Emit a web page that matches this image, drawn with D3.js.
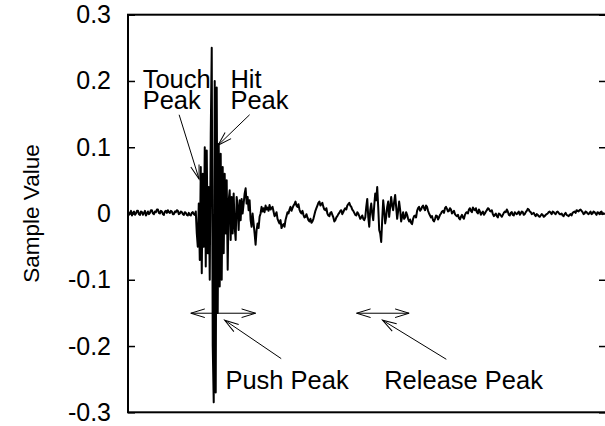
<!DOCTYPE html>
<html>
<head>
<meta charset="utf-8">
<script src="https://cdn.jsdelivr.net/npm/d3@7"></script>
<style>
  body { margin: 0; background: #fff; }
  svg { display: block; font-family: "Liberation Sans", Arial, sans-serif; }
</style>
</head>
<body>
<svg id="chart"></svg>
<script>
// y axis ticks
const yTicks = [-0.3, -0.2, -0.1, 0, 0.1, 0.2, 0.3];
const yTickLabels = ["-0.3", "-0.2", "-0.1", "0", "0.1", "0.2", "0.3"];

const quietBefore = [
  0.002, -0.002, 0.001, 0.004, -0.003, 0.001, 0.003, -0.002, 0.000, 0.004,
  0.004, -0.001, -0.002, 0.003, 0.002, -0.002, 0.001, 0.004, -0.003, 0.000,
  0.003, -0.001, 0.001, 0.005, 0.005, 0.000, -0.001, 0.003, 0.002, 0.006,
  0.006, 0.001, 0.000, 0.004, 0.003, -0.001, -0.002, 0.003, 0.004, 0.001,
  0.005, 0.002, 0.001, 0.004, 0.003, -0.001, -0.001, 0.003, 0.002, 0.005,
  0.004, -0.001, 0.000, 0.003, 0.002, -0.001, -0.002, 0.002, 0.001, -0.002,
  -0.003, 0.001, -0.002, -0.003, 0.001, 0.002, -0.001, -0.002, 0.003
];
const touchAndHit = [
  -0.030, -0.050, 0.015, -0.070, 0.070, -0.090, 0.060, -0.050, 0.100, -0.080,
  0.095, -0.060, 0.040, -0.100, 0.120, 0.250, -0.200, -0.285, 0.200, -0.270,
  0.190, -0.150, 0.105, -0.110, 0.090, -0.100, 0.070, -0.060, 0.060, -0.030,
  0.050, -0.085, 0.020, 0.035, -0.040, 0.025, -0.030, 0.030, -0.020, -0.040,
  0.025, 0.010, -0.025, 0.020, -0.010, 0.022, 0.000, 0.015, 0.030, 0.038,
  0.015, 0.025, 0.005, 0.020, -0.010, -0.020, 0.000, -0.015, -0.030, -0.047,
  -0.025, -0.015, -0.022, -0.005, 0.000, 0.010, 0.003, 0.008, 0.002, 0.012,
  0.006, 0.009, 0.004, 0.013
];
const pushAndRelease = [
  0.006, 0.008, 0.010, 0.003, -0.004, -0.002, 0.002, -0.008, -0.012, -0.015,
  -0.010, -0.022, -0.018, -0.016, -0.020, -0.010, -0.004, 0.002, 0.000, 0.006,
  0.010, 0.004, 0.008, 0.012, 0.014, 0.018, 0.012, 0.010, 0.014, 0.006,
  0.002, 0.000, 0.004, -0.002, -0.006, -0.005, -0.001, -0.006, -0.010, -0.012,
  -0.008, -0.014, -0.012, -0.008, -0.002, 0.004, 0.008, 0.012, 0.016, 0.018,
  0.012, 0.014, 0.016, 0.010, 0.006, 0.005, 0.008, 0.000, -0.003, -0.004,
  0.001, 0.002, -0.002, -0.006, -0.012, -0.010, -0.006, -0.004, -0.001, 0.001,
  0.004, 0.005, -0.001, 0.002, 0.006, 0.008, 0.006, 0.012, 0.014, 0.016,
  0.012, 0.010, 0.006, 0.004, 0.001, -0.002, -0.003, 0.002, 0.000, -0.004,
  -0.008, -0.006, -0.003, -0.008, -0.010, -0.006, 0.010, 0.022, -0.005, -0.020,
  0.005, 0.015, 0.000, -0.010, 0.012, 0.030, 0.020, 0.040, 0.010, -0.025,
  -0.030, -0.043, -0.010, 0.020, 0.005, -0.015, -0.005, 0.010, 0.018, -0.005,
  0.010, 0.025, 0.012, 0.005, 0.018, 0.028, 0.010, -0.008, 0.004, 0.018,
  0.006, -0.012, -0.005, 0.002, -0.008, -0.006, 0.002, -0.002, -0.008, -0.012,
  -0.009, -0.014, -0.016, -0.008, -0.004, -0.003, -0.006, 0.004, 0.008, 0.010,
  0.004, 0.006, 0.010, 0.012, 0.008, 0.005, 0.012, 0.010, 0.004, 0.000
];
const quietAfter = [
  -0.003, -0.006, -0.004, -0.010, -0.012, -0.008, -0.003, -0.004, -0.009, -0.006,
  -0.002, 0.000, 0.003, 0.004, 0.001, 0.008, 0.010, 0.007, 0.003, 0.004,
  0.008, 0.006, 0.000, 0.002, 0.004, -0.001, -0.003, -0.004, -0.002, -0.007,
  -0.009, -0.005, -0.002, -0.006, -0.008, -0.002, 0.001, 0.002, 0.000, 0.006,
  0.008, 0.004, 0.002, 0.009, 0.006, 0.005, 0.008, 0.002, 0.000, 0.006,
  0.003, -0.002, 0.001, 0.003, -0.002, 0.000, 0.003, 0.005, 0.008, 0.007,
  0.004, 0.003, 0.005, -0.001, -0.004, -0.002, 0.000, -0.004, -0.006, 0.000,
  -0.001, -0.003, -0.005, -0.002, 0.001, 0.003, 0.002, 0.006, 0.003, -0.002,
  -0.003, 0.001, 0.002, -0.002, -0.003, 0.002, 0.000, -0.001, 0.001, 0.003,
  -0.002, 0.000, 0.003, 0.002, -0.002, -0.001, 0.002, 0.004, 0.007, 0.006,
  0.003, 0.002, -0.001, 0.000, 0.001, -0.002, -0.004, -0.001, -0.002, -0.004,
  -0.005, -0.003, -0.001, -0.002, -0.005, -0.004, -0.002, -0.001, 0.000, 0.002,
  0.003, 0.001, -0.001, 0.003, 0.002, 0.000, -0.001, 0.002, 0.003, 0.001,
  -0.001, -0.001, 0.000, -0.003, -0.004, -0.001, 0.001, -0.002, -0.003, -0.004,
  -0.002, -0.001, -0.003, 0.001, 0.002, 0.003, 0.001, 0.005, 0.004, 0.003,
  0.005, 0.006, 0.004, 0.002, -0.001, 0.000, 0.003, 0.002, 0.000, -0.001,
  0.001, 0.003, -0.001, 0.000, 0.003, 0.002, 0.000, -0.002, 0.002, 0.001,
  -0.001, 0.002, 0.003, -0.001, 0.000, 0.001
];
const samples = [...quietBefore, ...touchAndHit, ...pushAndRelease, ...quietAfter];

// annotation labels, anchored in data space (sample index, value)
const labelTexts = [["Touch", "Peak"], ["Hit", "Peak"], ["Push Peak"], ["Release Peak"]];
const labelSample = [14.7, 102.7, 97.7, 257];
const labelValue = [0.189, 0.189, -0.265, -0.265];

// pointer arrows [fromSample, fromValue, toSample, toValue]
const pointers = [
  [51.3, 0.149, 71.3, 0.052],
  [122.0, 0.149, 90.3, 0.103],
  [153.7, -0.219, 97.0, -0.161],
  [319.3, -0.220, 255.3, -0.161]
];
// span arrows [startSample, endSample, value]
const spans = [
  [63, 128, -0.1505],
  [229.3, 282, -0.1505]
];

const width = 605, height = 426;
const margin = { top: 14.7, right: -1, bottom: 13.7, left: 128 };

const svg = d3.select("#chart").attr("width", width).attr("height", height);

const xScale = d3.scaleLinear()
  .domain([0, samples.length - 1])
  .range([margin.left, width - 0.5]);
const yScale = d3.scaleLinear()
  .domain([-0.3, 0.3])
  .range([height - margin.bottom, margin.top]);

// open arrow head
const defs = svg.append("defs");
defs.append("marker")
  .attr("id", "head")
  .attr("markerUnits", "userSpaceOnUse")
  .attr("viewBox", "-15 -6 17 12")
  .attr("refX", 0).attr("refY", 0)
  .attr("markerWidth", 17).attr("markerHeight", 12)
  .attr("orient", "auto-start-reverse")
  .append("path")
  .attr("d", "M-14,-4.3L0,0L-14,4.3")
  .attr("fill", "none")
  .attr("stroke", "#000")
  .attr("stroke-width", 1);

// left axis with inward ticks
const yAxis = d3.axisLeft(yScale)
  .tickValues(yTicks)
  .tickFormat((d, i) => yTickLabels[i])
  .tickSize(-7)
  .tickPadding(17);

const yAxisG = svg.append("g")
  .attr("transform", `translate(${margin.left},0)`)
  .call(yAxis);
yAxisG.select(".domain").remove();
yAxisG.selectAll("line").attr("stroke", "#000").attr("stroke-width", 1.5);
yAxisG.selectAll("text")
  .attr("fill", "#000")
  .style("font-size", "25px")
  .style("font-family", "'Liberation Sans', Arial, sans-serif");

// mirrored ticks on the right
const yAxisR = d3.axisRight(yScale)
  .tickValues(yTicks)
  .tickFormat("")
  .tickSize(-7);
const yAxisRG = svg.append("g")
  .attr("transform", `translate(${width - margin.right},0)`)
  .call(yAxisR);
yAxisRG.select(".domain").remove();
yAxisRG.selectAll("line").attr("stroke", "#000").attr("stroke-width", 1.5);

// waveform
const line = d3.line()
  .x((d, i) => xScale(i))
  .y(d => yScale(d));

svg.append("path")
  .datum(samples)
  .attr("fill", "none")
  .attr("stroke", "#000")
  .attr("stroke-width", 2)
  .attr("stroke-linejoin", "round")
  .attr("d", line);

// frame
svg.append("rect")
  .attr("x", margin.left)
  .attr("y", margin.top)
  .attr("width", width - margin.right - margin.left)
  .attr("height", height - margin.bottom - margin.top)
  .attr("fill", "none")
  .attr("stroke", "#000")
  .attr("stroke-width", 2);

// y label
svg.append("text")
  .attr("transform", `translate(39,${yScale(0)}) rotate(-90)`)
  .attr("text-anchor", "middle")
  .style("font-size", "22.5px")
  .text("Sample Value");

// annotation labels
labelTexts.forEach((lines, k) => {
  const t = svg.append("text")
    .attr("x", xScale(labelSample[k]))
    .attr("y", yScale(labelValue[k]))
    .style("font-size", "25.5px");
  lines.forEach((s, j) => {
    t.append("tspan")
      .attr("x", xScale(labelSample[k]))
      .attr("dy", j === 0 ? 0 : 21)
      .text(s);
  });
});

// pointer arrows
svg.selectAll(".pointer")
  .data(pointers)
  .join("line")
  .attr("class", "pointer")
  .attr("x1", d => xScale(d[0]))
  .attr("y1", d => yScale(d[1]))
  .attr("x2", d => xScale(d[2]))
  .attr("y2", d => yScale(d[3]))
  .attr("stroke", "#000")
  .attr("stroke-width", 1)
  .attr("marker-end", "url(#head)");

// span arrows, heads on both ends
svg.selectAll(".span")
  .data(spans)
  .join("line")
  .attr("class", "span")
  .attr("x1", d => xScale(d[0]))
  .attr("y1", d => yScale(d[2]))
  .attr("x2", d => xScale(d[1]))
  .attr("y2", d => yScale(d[2]))
  .attr("stroke", "#000")
  .attr("stroke-width", 1)
  .attr("marker-start", "url(#head)")
  .attr("marker-end", "url(#head)");
</script>
</body>
</html>
